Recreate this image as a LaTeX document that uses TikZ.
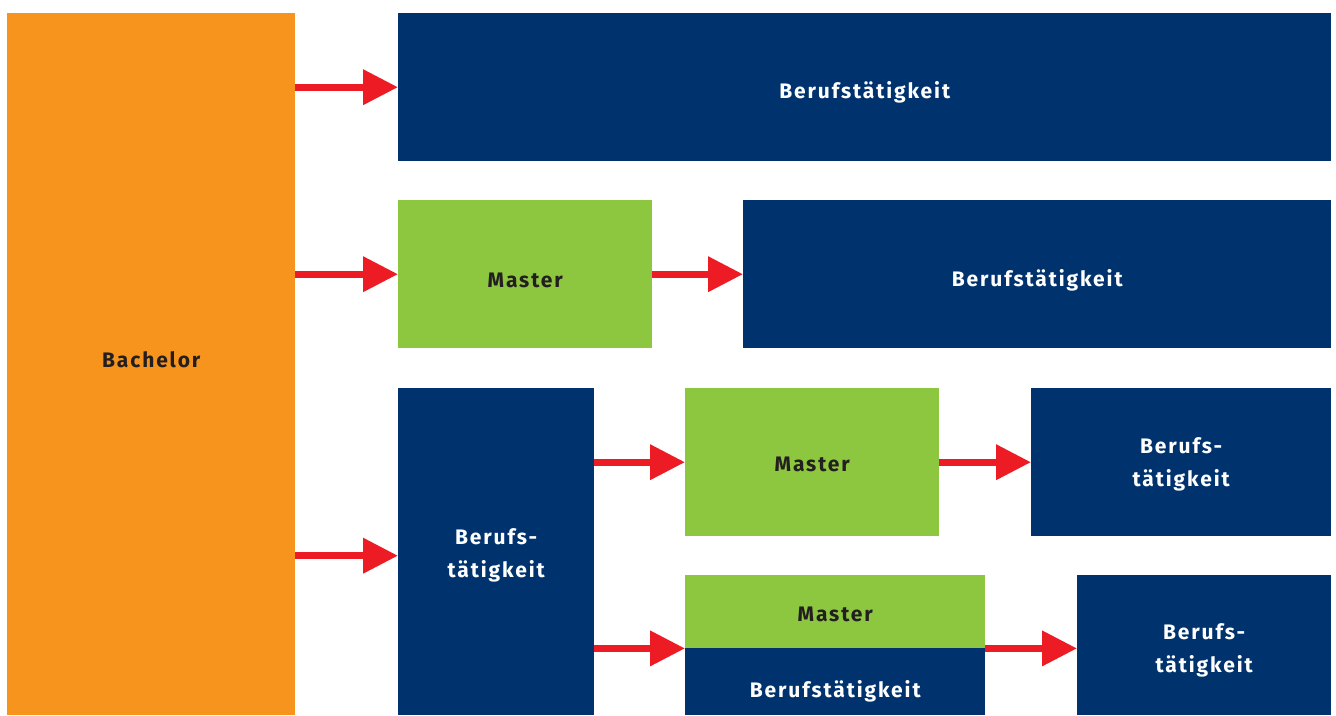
\documentclass[tikz,border=0pt]{standalone}
\usepackage{fontspec}
\setmainfont{Fira Sans}[LetterSpace=9]
\usetikzlibrary{arrows.meta}
\definecolor{navy}{HTML}{00336E}
\definecolor{lgreen}{HTML}{8DC63F}
\definecolor{orng}{HTML}{F7941E}
\definecolor{arred}{HTML}{ED1C24}
\definecolor{dtext}{HTML}{231F20}
\tikzset{
  box/.style={anchor=north west, inner sep=0pt},
  navybox/.style={box, fill=navy},
  greenbox/.style={box, fill=lgreen},
  orangebox/.style={box, fill=orng},
  txt/.style={inner sep=0pt, align=center, font=\fontsize{21}{33}\selectfont\bfseries},
  wtxt/.style={txt, text=white},
  dtxt/.style={txt, text=dtext},
  arr/.style={draw=arred, line width=7pt, -{Triangle[length=35pt,width=34pt]}, arred},
}
\begin{document}
\begin{tikzpicture}[x=1pt,y=-1pt]
\useasboundingbox (0,0) rectangle (1336,715);
\node[orangebox, minimum width=288pt, minimum height=702pt] (bach) at (7,13) {};
\node[navybox, minimum width=933pt, minimum height=148pt] (b1) at (398,13) {};
\node[greenbox, minimum width=254pt, minimum height=148pt] (m1) at (398,200) {};
\node[navybox, minimum width=588pt, minimum height=148pt] (b2) at (743,200) {};
\node[navybox, minimum width=196pt, minimum height=327pt] (b3) at (398,388) {};
\node[greenbox, minimum width=254pt, minimum height=148pt] (m2) at (685,388) {};
\node[navybox, minimum width=300pt, minimum height=148pt] (b4) at (1031,388) {};
\node[greenbox, minimum width=300pt, minimum height=73pt] (m3) at (685,575) {};
\node[navybox, minimum width=300pt, minimum height=67pt] (b5) at (685,648) {};
\node[navybox, minimum width=254pt, minimum height=140pt] (b6) at (1077,575) {};
% texts
\node[dtxt] (tbach) at ([yshift=4pt]bach.center) {Bachelor};
\node[wtxt] (tb1) at ([yshift=-5pt]b1.center) {Berufstätigkeit};
\node[dtxt] (tm1) at ([yshift=-6pt]m1.center) {Master};
\node[wtxt] (tb2) at ([yshift=-6pt]b2.center) {Berufstätigkeit};
\node[wtxt] (tb3) at ([yshift=-4pt]b3.center) {Berufs-\\tätigkeit};
\node[dtxt] (tm2) at ([yshift=-2pt]m2.center) {Master};
\node[wtxt] (tb4) at ([yshift=-2pt]b4.center) {Berufs-\\tätigkeit};
\node[dtxt] (tm3) at ([yshift=-3pt]m3.center) {Master};
\node[wtxt] (tb5) at ([yshift=-10pt]b5.center) {Berufstätigkeit};
\node[wtxt] (tb6) at ([yshift=-5pt]b6.center) {Berufs-\\tätigkeit};
% arrows
\draw[arr] (bach.east |- b1.west) -- (b1.west);
\draw[arr] (bach.east |- m1.west) -- (m1.west);
\draw[arr] (m1.east) -- (b2.west);
\draw[arr] ([yshift=-4pt]bach.east |- b3.west) -- ([yshift=-4pt]b3.west);
\draw[arr] (b3.east |- m2.west) -- (m2.west);
\draw[arr] (m2.east) -- (b4.west);
\draw[arr] (b3.east |- m3.south west) -- (m3.south west);
\draw[arr] (m3.south east) -- (m3.south east -| b6.west);
\end{tikzpicture}
\end{document}
